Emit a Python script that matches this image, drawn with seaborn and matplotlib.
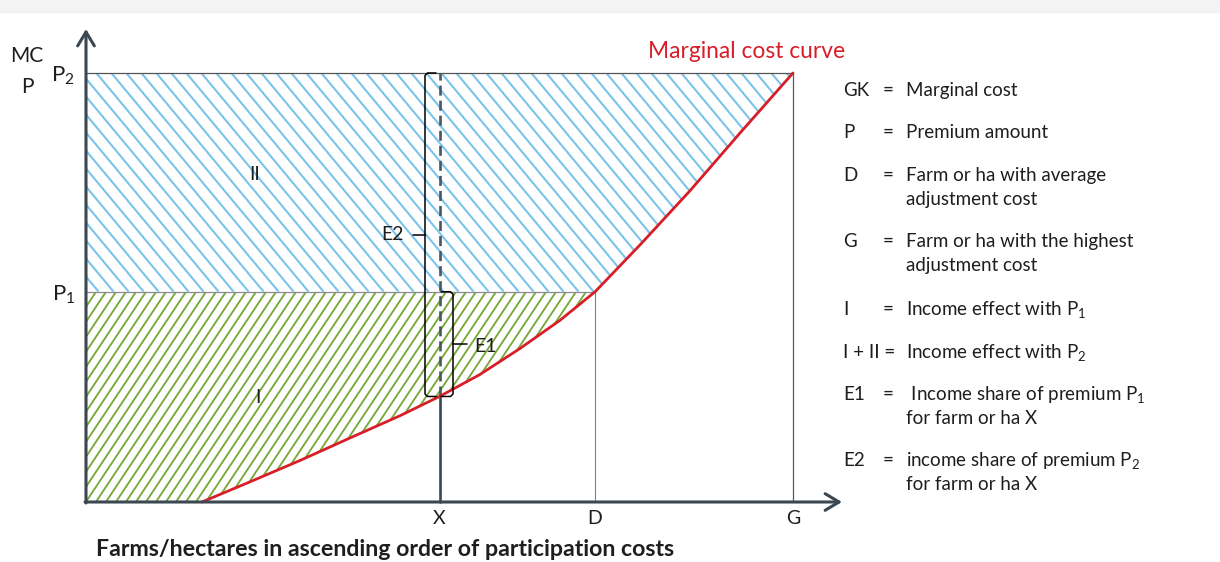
import numpy as np
import matplotlib
matplotlib.use("Agg")
import matplotlib.pyplot as plt
import seaborn as sns
from matplotlib.collections import LineCollection
from matplotlib.patches import Rectangle

# ---------------- data ----------------
# marginal cost curve: farms in ascending order (G = 100) vs cost (P2 = 100)
mc_x = [16.4, 23.2, 30.3, 37.3, 44.4, 50.0, 55.7, 61.4, 67.0, 72.0, 78.4, 85.4, 92.5, 100.0]
mc_y = [0.0, 4.7, 9.7, 14.9, 20.1, 24.6, 29.7, 35.8, 42.3, 49.0, 60.0, 72.5, 86.0, 100.0]
farm_names = ["X", "D", "G"]
farm_pos = [50.0, 72.0, 100.0]
premium_names = ["1", "2"]
premium_vals = [49.0, 100.0]
legend_keys = ["GK", "P", "D", "G", "I", "I + II =", "E1", "E2"]
legend_desc = [
    ["Marginal cost"],
    ["Premium amount"],
    ["Farm or ha with average", "adjustment cost"],
    ["Farm or ha with the highest", "adjustment cost"],
    [r"Income effect with P$_\mathregular{1}$"],
    [r"Income effect with P$_\mathregular{2}$"],
    [r" Income share of premium P$_\mathregular{1}$", "for farm or ha X"],
    [r"income share of premium P$_\mathregular{2}$", "for farm or ha X"],
]

# ---------------- style ----------------
sns.set_theme(style="white")
plt.rcParams["font.family"] = ["Lato", "DejaVu Sans"]
plt.rcParams["mathtext.fontset"] = "custom"
plt.rcParams["mathtext.rm"] = "Lato"
plt.rcParams["mathtext.it"] = "Lato:italic"
plt.rcParams["mathtext.bf"] = "Lato:bold"

W, H = 1220, 562
OX, OY = 86, 502          # origin in pixels
SX, SY = 7.07, 4.29       # pixels per data unit

def xd(px):
    return (px - OX) / SX

def yd(py):
    return (OY - py) / SY

AX_COL = "#3b4852"
RED = "#d81e28"
BLUE = "#7cc3ec"
GREEN = "#78a93a"
TXT = "#1e1e1e"

fig = plt.figure(figsize=(W / 100, H / 100), dpi=100)
fig.patches.append(Rectangle((0, 1 - 12 / H), 1, 12 / H, transform=fig.transFigure,
                             color="#f3f3f3", zorder=-5))
ax = fig.add_axes([0, 0, 1, 1])
ax.patch.set_alpha(0)

X_FARM, D_FARM, G_FARM = farm_pos
P1, P2 = premium_vals
yX = float(np.interp(X_FARM, mc_x, mc_y))

# ---------------- hatched regions ----------------
def hatch(region, xlo, xhi, ylo, yhi, slope_px, spacing_px, color, lw):
    sd = slope_px * SX / SY
    sp = spacing_px / SX
    span = (yhi - ylo) / abs(sd)
    cs = np.arange(xlo - span - sp, xhi + span + sp, sp)
    segs = [[(c, ylo), (c + (yhi - ylo) / sd, yhi)] for c in cs]
    lc = LineCollection(segs, colors=color, linewidths=lw, zorder=1)
    ax.add_collection(lc)
    lc.set_clip_path(region.get_paths()[0], ax.transData)

yy_b = np.linspace(P1, P2, 300)
reg_b = ax.fill_betweenx(yy_b, 0, np.interp(yy_b, mc_y, mc_x), facecolor="none",
                         edgecolor="none")
hatch(reg_b, 0, G_FARM, P1, P2, -1.2, 15, BLUE, 1.5)

yy_g = np.linspace(0, P1, 300)
reg_g = ax.fill_betweenx(yy_g, 0, np.interp(yy_g, mc_y, mc_x), facecolor="none",
                         edgecolor="none")
hatch(reg_g, 0, D_FARM, 0, P1, 1.5, 10, GREEN, 1.35)

# ---------------- guide lines ----------------
ax.plot([0, G_FARM], [P2, P2], color="#555555", lw=0.9, zorder=2)
ax.plot([0, D_FARM], [P1, P1], color="#8c8c8c", lw=0.9, zorder=2)
ax.plot([D_FARM, D_FARM], [0, P1], color="#808080", lw=0.8, zorder=2)
ax.plot([G_FARM, G_FARM], [0, P2], color="#5a5a5a", lw=0.9, zorder=2)
ax.plot([X_FARM, X_FARM], [0, yX], color=AX_COL, lw=1.9, zorder=3)
ax.plot([X_FARM, X_FARM], [yX, P2], color="#4a5660", lw=1.9, dashes=(3.8, 1.9), zorder=3)

# ---------------- marginal cost curve ----------------
sns.lineplot(x=mc_x, y=mc_y, color=RED, lw=2.0, ax=ax, zorder=4, sort=False)

# ---------------- axes with arrows ----------------
arrow = dict(arrowstyle="->,head_length=1.0,head_width=0.6", lw=2.2, color=AX_COL,
             mutation_scale=10, shrinkA=0, shrinkB=0)
ax.annotate("", xy=(0, yd(29)), xytext=(0, yd(503)), arrowprops=arrow, zorder=5)
ax.annotate("", xy=(xd(842), 0), xytext=(xd(85), 0), arrowprops=arrow, zorder=5)

# ---------------- braces E1 / E2 ----------------
def brace(xb, y0, y1, tick, mid):
    ym = (y0 + y1) / 2
    r = 2.5 / SY
    sgn = np.sign(tick)
    rx = 2.5 / SX * sgn
    xs = [xb + tick, xb + rx, xb, xb, xb + rx, xb + tick]
    ys = [y0, y0, y0 + r, y1 - r, y1, y1]
    ax.plot(xs, ys, color="black", lw=1.1, solid_joinstyle="round", zorder=6)
    ax.plot([xb, xb + mid], [ym, ym], color="black", lw=1.1, zorder=6)

brace(X_FARM - 14.5 / SX, yX, P2, 11 / SX, -12 / SX)
brace(X_FARM + 13.5 / SX, yX, P1, -12 / SX, 14 / SX)
ax.text(xd(392), yd(240), "E2", fontsize=14, color=TXT, ha="center", va="baseline")
ax.text(xd(485), yd(352), "E1", fontsize=14, color=TXT, ha="center", va="baseline")

# region labels
ax.text(xd(255), yd(180), "II", fontsize=14, color=TXT, ha="center", va="baseline")
ax.text(xd(258), yd(403), "I", fontsize=14, color=TXT, ha="center", va="baseline")

# ---------------- axis labels ----------------
for name, pos in zip(farm_names, farm_pos):
    ax.text(pos, yd(524), name, fontsize=14, color=TXT, ha="center", va="baseline")
for name, val in zip(premium_names, premium_vals):
    ax.text(xd(75), val - 8.5 / SY, r"P$_\mathregular{%s}$" % name, fontsize=16,
            color=TXT, ha="right", va="baseline")

ax.text(xd(27), yd(62), "MC", fontsize=15, color=TXT, ha="center", va="baseline")
ax.text(xd(27), yd(93), "P", fontsize=15, color=TXT, ha="center", va="baseline")
ax.text(xd(96), yd(556), "Farms/hectares in ascending order of participation costs",
        fontsize=16.7, fontweight="bold", color=TXT, ha="left", va="baseline")
ax.text(xd(648), yd(58), "Marginal cost curve", fontsize=16.4, color=RED, ha="left",
        va="baseline")

# ---------------- legend (key table) ----------------
row_base = [96, 138, 181, 247, 315, 358, 400, 466]
for key, desc, b in zip(legend_keys, legend_desc, row_base):
    ax.text(xd(843), yd(b), key, fontsize=13.5, color=TXT, ha="left", va="baseline")
    if key != "I + II =":
        ax.text(xd(888), yd(b), "=", fontsize=13.5, color=TXT, ha="center", va="baseline")
    for i, line in enumerate(desc):
        ax.text(xd(906), yd(b + 24 * i), line, fontsize=13.5, color=TXT, ha="left",
                va="baseline")

ax.set_xlim(xd(0), xd(W))
ax.set_ylim(yd(H), yd(0))
ax.axis("off")
fig.savefig("out.png", dpi=100)
